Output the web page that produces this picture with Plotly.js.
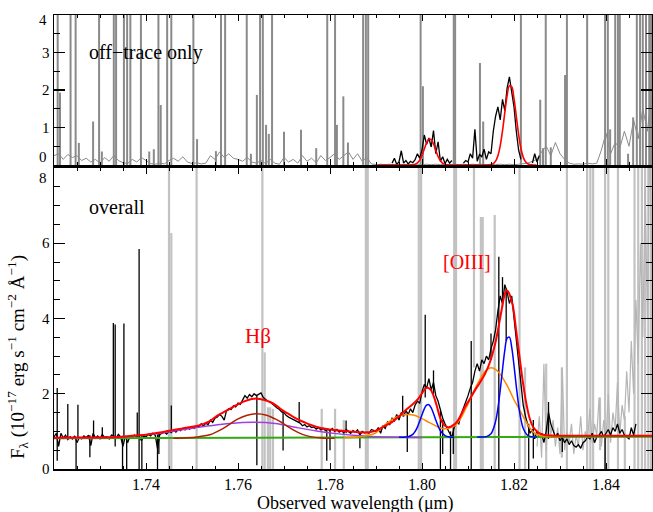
<!DOCTYPE html>
<html>
<head>
<meta charset="utf-8">
<script src="https://cdn.plot.ly/plotly-3.0.1.min.js"></script>
<style>html,body{margin:0;padding:0;background:#fff;}#chart{width:653px;height:512px;}</style>
</head>
<body>
<div id="chart"></div>
<script>
// ---------------- DATA ----------------
const STEP = 0.0005;
// bottom panel: observed spectrum (black), grid segments
const blackA_start = 1.7200;
const blackA = [0.85,0.95,0.60,0.95,0.82,0.90,0.78,0.86,0.80,0.88,0.70,0.84,0.80,0.88,0.83,0.90,0.62,0.95,0.82,0.88,
0.80,0.92,0.84,0.86,0.80,0.90,0.88,0.82,0.92,0.85,0.60,0.88,0.70,0.86,0.84,0.90,0.86,0.90,0.75,0.88,
0.85,0.92,0.88,0.95,0.90,0.55,0.92,0.95,0.98,0.93,1.00,0.97,1.03,0.98,1.05,1.02,1.08,1.04,1.10,1.06];
const blackB_start = 1.7500;
const blackB = [1.12,1.08,1.15,1.12,1.20,1.14,1.22,1.18,1.30,1.24,1.35,1.38,1.45,1.40,1.30,1.55,1.60,1.58,1.68,1.65,
1.75,1.72,1.82,1.95,1.88,1.98,1.92,2.00,1.95,1.98,2.02,1.90,1.85,1.80,1.78,1.72,1.68,1.62,1.58,1.52,
1.50,1.42,1.38,1.35,1.30,1.28,1.25,1.22,1.15,1.18,1.12,1.15,1.10,1.12,1.06,1.10,1.04,1.08,1.02,1.06];
const blackC_start = 1.7800;
const blackC = [1.02,1.08,1.00,1.05,0.98,1.02,0.96,1.05,1.00,0.95,1.02,0.98,1.04,0.90,1.00,0.96,0.98,0.95,1.05,1.02];
const blackD_start = 1.7900;
const blackD = [1.00,1.10,0.95,1.15,1.08,1.25,1.18,1.35,1.28,1.45,1.30,1.50,1.40,1.55,1.45,1.60,1.50,1.70,1.80,1.75,
2.05,2.25,2.15,2.40,2.10,2.30,1.95,1.80,1.55,1.35,1.20,1.05,0.95,0.85,1.10,1.25,1.20,1.45,1.60,1.80,
1.95,2.15,2.30,2.60,2.80,2.60,2.90,2.80,3.00,2.90,3.20,3.40,3.70,4.20,4.60,4.40,4.90,4.70,4.40,4.60,
4.00,3.40,2.80,2.20,1.70,1.40,1.20,0.95,1.05,0.80,1.00,0.85,0.95,0.70];
const blackE_start = 1.8270;
const blackE = [1.00,1.50,1.20,1.00,0.85,0.95,0.75,0.85,0.70,0.80,0.65,0.75,0.62,0.58,0.65,0.55,0.70,0.75,0.85,0.80,
0.95,0.70,0.85,0.90,1.00,0.85,0.95,1.05,0.90,1.10,1.00,1.20,0.95,1.05,0.90,0.85,0.80,1.10,0.90,1.20];
// narrow spikes / dips of the black spectrum: wavelength, low, high
const bSpikeWl = [1.7207,1.7230,1.7248,1.7252,1.7278,1.7286,1.7305,1.7329,1.7333,1.7349,1.7352,1.7358,1.7381,1.7385,1.7391,1.7425,1.7428,1.7455,
1.7641,1.7698,1.7733,1.7793,1.7800,1.7835,1.7865,1.7958,1.7968,1.8007,1.8025,1.8040,1.8045,1.8062,1.8068,1.8107,1.8150,1.8167,1.8175,1.8183,
1.8232,1.8242,1.8275,1.8305,1.8398];
const bSpikeLo = [0.22,0.80,-0.2,0.80,0.31,0.85,0.85,0.85,0.60,0.00,0.85,-0.2,0.85,-0.2,-0.2,-0.2,0.40,0.95,
0.10,0.49,1.25,0.22,0.50,0.95,0.55,1.40,0.45,1.90,2.00,0.00,0.40,-0.2,0.40,-0.2,2.90,-0.2,4.30,3.40,
-0.2,0.28,0.80,0.45,-0.2];
const bSpikeHi = [2.15,1.73,0.85,1.71,0.90,1.29,1.11,3.88,3.84,0.88,3.87,0.88,1.50,5.85,0.90,0.92,0.95,1.69,
1.95,1.55,1.78,1.05,1.05,1.29,0.97,1.95,1.50,4.10,2.62,1.55,1.30,1.00,1.10,3.40,3.60,5.64,5.10,4.80,
1.20,1.30,1.78,0.85,0.90];
// bottom panel masked sky-line residuals (gray): wavelength, low, high
const skyWl = [1.7450,1.7455,1.7510,1.7653,1.7658,1.7665,1.7670,1.7676,1.7782,1.7811,1.7830,1.7878,1.7882,1.7993,1.7998,1.8070,1.8074,
1.8113,1.8128,1.8132,1.8158,1.8212,1.8224,1.8270,1.8304,1.8315,1.8359,1.8366,1.8372,1.8387,1.8398,1.8405,1.8426,1.8441,
1.8462,1.8470,1.8478,1.8485,1.8492,1.8498];
const skyLo = [-1,-1,-1,-1,-1,-1,-1,-1,-1,-1,-1,-1,-1,-1,-1,-1,-1,
2.7,-1,-1,-1,-1,-1,-1,0.3,-1,-1,-1,-1,0.5,-1,-1,-1,-1,
-1,-1,-1,-1,-1,-1];
const skyHi = [9,6.27,9,9,3.1,1.64,1.64,1.6,1.6,1.6,1.3,9,9,9,9,9,9,
9,6.7,6.7,6.75,9,2.7,2.8,2.7,9,9,9,9,1.9,9,9,9,1.4,
9,9,9,9,9,9];
// bottom panel gray (masked) spectrum at the red end
const grayR_start = 1.8250;
const grayR = [0.6,1.4,0.3,2.8,0.5,1.6,0.9,1.3,0.6,1.1,0.4,2.7,0.5,1.0,0.7,1.2,0.4,0.9,0.6,1.4,
0.5,1.0,0.8,1.6,0.7,1.2,0.9,1.9,0.6,1.3,0.8,2.0,0.7,1.5,1.1,2.3,0.9,1.7,1.3,2.6,
1.5,3.4,2.0,4.5,2.8,6.0,3.5,7.5,4.0,9.0,5.0];

// model components (bottom panel)
const contWl = [1.72, 1.85];
const contF  = [0.82, 0.86];
const totWl = [1.7200,1.7250,1.7300,1.7350,1.7374,1.7400,1.7420,1.7440,1.7460,1.7480,1.7504,1.7525,1.7539,1.7555,1.7575,1.7595,1.7612,1.7630,1.7641,1.7655,
1.7670,1.7685,1.7698,1.7713,1.7728,1.7743,1.7757,1.7780,1.7800,1.7820,1.7843,1.7860,1.7880,1.7900,1.7920,1.7934,1.7950,1.7963,1.7978,1.7992,
1.8002,1.8010,1.8018,1.8025,1.8032,1.8039,1.8047,1.8057,1.8066,1.8075,1.8084,1.8093,1.8104,1.8115,1.8126,1.8137,1.8148,1.8159,1.8166,1.8173,
1.8179,1.8184,1.8189,1.8194,1.8198,1.8205,1.8213,1.8220,1.8227,1.8234,1.8242,1.8253,1.8264,1.8280,1.8350,1.8500];
const totF = [0.83,0.835,0.84,0.86,0.89,0.91,0.95,0.99,1.04,1.08,1.13,1.20,1.27,1.42,1.55,1.69,1.79,1.86,1.87,1.84,
1.78,1.67,1.55,1.44,1.33,1.25,1.18,1.09,1.05,1.02,1.00,0.98,0.97,1.02,1.15,1.24,1.40,1.55,1.70,1.87,
2.05,2.16,2.12,1.95,1.68,1.38,1.18,1.11,1.15,1.24,1.42,1.64,1.86,2.09,2.30,2.53,2.85,3.33,3.75,4.22,
4.60,4.75,4.68,4.49,4.31,3.65,2.89,2.25,1.73,1.35,1.11,0.97,0.91,0.89,0.885,0.885];
const hbBroadWl = [1.7200,1.7300,1.7374,1.7417,1.7461,1.7504,1.7539,1.7582,1.7632,1.7681,1.7728,1.7771,1.7814,1.7858,1.7890,1.7950,1.8000];
const hbBroadF  = [0.83,0.84,0.88,0.93,1.01,1.09,1.15,1.21,1.24,1.21,1.10,1.01,0.94,0.89,0.865,0.845,0.84];
const hbNarrowWl = [1.7460,1.7490,1.7515,1.7539,1.7568,1.7597,1.7620,1.7641,1.7662,1.7684,1.7702,1.7720,1.7740,1.7757,1.7786,1.7810];
const hbNarrowF  = [0.82,0.83,0.86,0.91,1.08,1.31,1.43,1.47,1.43,1.31,1.18,1.04,0.92,0.86,0.82,0.82];
const o3BroadWl = [1.7830,1.7860,1.7876,1.7898,1.7920,1.7941,1.7955,1.7970,1.7985,1.8000,1.8015,1.8031,1.8046,1.8058,1.8072,1.8083,1.8093,1.8104,
1.8115,1.8125,1.8133,1.8142,1.8150,1.8158,1.8166,1.8175,1.8184,1.8192,1.8200,1.8213,1.8227,1.8242,1.8257,1.8275,1.8300];
const o3BroadF  = [0.83,0.85,0.88,0.95,1.18,1.36,1.43,1.45,1.42,1.34,1.24,1.14,1.07,1.08,1.16,1.32,1.55,1.83,
2.13,2.36,2.53,2.65,2.69,2.66,2.58,2.43,2.24,2.05,1.84,1.55,1.24,0.98,0.89,0.87,0.86];
const o3NarrowAWl = [1.7950,1.7960,1.7970,1.7980,1.7985,1.7990,1.7995,1.8000,1.8005,1.8010,1.8015,1.8020,1.8025,1.8030,1.8035,1.8040,1.8050,1.8060,1.8070];
const o3NarrowAF  = [0.845,0.847,0.859,0.922,0.997,1.114,1.268,1.442,1.600,1.698,1.707,1.625,1.477,1.303,1.142,1.017,0.887,0.851,0.845];
const o3NarrowBWl = [1.8120,1.8130,1.8140,1.8150,1.8160,1.8165,1.8170,1.8175,1.8180,1.8185,1.8190,1.8195,1.8200,1.8205,1.8210,1.8215,1.8220,1.8230,1.8240,1.8250];
const o3NarrowBF  = [0.850,0.851,0.861,0.937,1.266,1.612,2.091,2.643,3.152,3.474,3.505,3.235,2.752,2.198,1.698,1.323,1.085,0.890,0.854,0.850];

// top panel (off-trace only)
const topGray_start = 1.720, TOP_STEP = 0.001;
const topGray = [0.25,0.30,0.15,0.28,0.20,0.25,0.12,0.18,0.08,0.15,
0.05,0.20,0.10,0.25,0.12,0.06,0.04,0.15,0.08,0.20,
0.12,0.04,0.02,0.05,0.03,0.12,0.18,0.10,0.22,0.08,
0.04,0.06,0.03,0.05,0.25,0.15,0.35,0.20,0.30,0.18,
0.15,0.10,0.20,0.08,0.05,0.12,0.04,0.15,0.05,0.02,
0.20,0.08,0.15,0.05,0.25,0.10,0.18,0.06,0.25,0.12,
0.20,0.30,0.15,0.25,0.35,0.15,0.30,0.10,0.20,0.03,
0.01,0.02,0.01,0.02,0.01,0.02,0.01,0.02,0.01,0.02,
0.01,0.02,0.01,0.02,0.01,0.02,0.01,0.02,0.01,0.02,
0.01,0.02,0.01,0.02,0.01,0.02,0.01,0.02,0.01,0.02,
0.01,0.02,0.03,0.05,0.10,0.15,0.35,0.50,0.25,0.60,
0.30,0.15,0.05,0.02,0.03,0.02,0.05,0.03,0.05,0.40,
0.85,0.30,0.60,0.45,0.90,0.50,1.20,0.70,1.50,0.90,2.00];
const topSpikeWl = [1.7208,1.7213,1.7236,1.7247,1.7254,1.7285,1.7298,1.7304,1.7330,1.7335,1.7352,1.7359,1.7366,1.7389,1.7407,1.7417,1.7427,1.7432,
1.7446,1.7455,1.7503,1.7511,1.7552,1.7563,1.7572,1.7619,1.7628,1.7641,1.7648,1.7654,1.7661,1.7667,1.7674,1.7700,1.7737,1.7770,1.7794,1.7811,
1.7815,1.7829,1.7839,1.7872,1.7878,1.7883,1.7997,1.8002,1.8069,1.8072,1.8126,1.8133,1.8215,1.8257,1.8263,1.8269,1.8280,1.8311,1.8315,
1.8359,1.8398,1.8404,1.8409,1.8420,1.8426,1.8430,1.8448,1.8459,1.8467,1.8474,1.8480,1.8487,1.8494,1.8498];
const topSpikeHi = [5,1.93,5,5,0.59,1.16,5,0.36,5,5,5,5,5,5,0.36,0.42,5,1.60,
5,5,5,0.69,0.37,5,5,5,0.30,1.87,5,5,1.07,0.83,5,0.89,0.94,0.45,5,5,
1.07,1.83,0.60,5,5,5,5,2.10,5,5,2.72,1.16,5,1.74,0.45,5,0.47,2.40,5,
5,5,5,0.95,5,5,5,0.30,1.27,5,5,5,5,5,5];
const topBlack_start = 1.7935;
const topBlack = [0.05,0.18,0.02,0.08,0.38,0.05,0.12,0.03,0.10,0.06,0.14,0.30,0.18,0.40,0.80,0.55,0.72,0.48,0.92,0.30,
0.62,0.10,0.22,0.04,0.15,0.05,0.12,null,null,null,null,0.05,0.12,0.08,0.30,0.18,0.95,0.10,0.28,0.22,
0.42,0.15,0.35,0.30,0.90,1.30,1.55,1.20,1.75,1.45,2.05,2.35,1.95,1.55,0.90,0.40,0.15,null,null,null,
null,0.05,0.30,0.08,0.25];
const topFitWl = [1.7905,1.7970,1.7975,1.7980,1.7985,1.7990,1.7995,1.8000,1.8005,1.8010,1.8015,1.8020,1.8025,1.8030,1.8035,1.8040,1.8045,1.8050,1.8055,1.8060,
1.8140,1.8145,1.8150,1.8155,1.8160,1.8165,1.8170,1.8175,1.8180,1.8185,1.8190,1.8195,1.8200,1.8205,1.8210,1.8215,1.8220,1.8225,1.8230,1.8235,1.8240,1.8249];
const topFitF = [0,0,0.002,0.006,0.020,0.056,0.130,0.257,0.425,0.591,0.690,0.678,0.561,0.389,0.227,0.111,0.046,0.016,0.005,0.001,
0.001,0.003,0.012,0.037,0.103,0.248,0.511,0.910,1.398,1.851,2.115,2.084,1.771,1.298,0.820,0.447,0.210,0.085,0.030,0.009,0.002,0];

const xTickVals = [1.74,1.76,1.78,1.80,1.82,1.84];
const xTickText = ['1.74','1.76','1.78','1.80','1.82','1.84'];
const yTopTickVals = [0,1,2,3,4];
const yBotTickVals = [0,2,4,6,8];

// ---------------- BUILD ----------------
function grid(start, step, vals){ return vals.map((v,i)=>+(start + i*step).toFixed(5)); }
function segs(wl, lo, hi){
  const xs=[], ys=[];
  for(let i=0;i<wl.length;i++){ xs.push(wl[i],wl[i],null); ys.push(lo[i],hi[i],null); }
  return {xs, ys};
}
const bx=[], by=[];
[[blackA_start,blackA],[blackB_start,blackB],[blackC_start,blackC],[blackD_start,blackD],[blackE_start,blackE]].forEach(([s,v])=>{
  grid(s,STEP,v).forEach((x,i)=>{bx.push(x); by.push(v[i]);});
});
const bs = segs(bSpikeWl,bSpikeLo,bSpikeHi);
const sky = segs(skyWl,skyLo,skyHi);
const tzero = topSpikeWl.map(()=>0);
const ts = segs(topSpikeWl,tzero,topSpikeHi);

const traces = [
  // bottom
  {x:sky.xs,y:sky.ys,xaxis:'x',yaxis:'y',mode:'lines',line:{color:'#c2c2c2',width:2.2},hoverinfo:'skip'},
  {x:grid(grayR_start,STEP,grayR),y:grayR,xaxis:'x',yaxis:'y',mode:'lines',line:{color:'#b5b5b5',width:1.2},hoverinfo:'skip'},
  {x:bx,y:by,xaxis:'x',yaxis:'y',mode:'lines',line:{color:'#000',width:1.3},hoverinfo:'skip'},
  {x:bs.xs,y:bs.ys,xaxis:'x',yaxis:'y',mode:'lines',line:{color:'#000',width:1.3},hoverinfo:'skip'},
  {x:contWl,y:contF,xaxis:'x',yaxis:'y',mode:'lines',line:{color:'#33aa11',width:2}},
  {x:hbBroadWl,y:hbBroadF,xaxis:'x',yaxis:'y',mode:'lines',line:{color:'#a040e0',width:1.5,shape:'spline'}},
  {x:hbNarrowWl,y:hbNarrowF,xaxis:'x',yaxis:'y',mode:'lines',line:{color:'#b02000',width:1.5,shape:'spline'}},
  {x:o3BroadWl,y:o3BroadF,xaxis:'x',yaxis:'y',mode:'lines',line:{color:'#ff8800',width:1.5,shape:'spline'}},
  {x:o3NarrowAWl,y:o3NarrowAF,xaxis:'x',yaxis:'y',mode:'lines',line:{color:'#0000ff',width:1.5,shape:'spline'}},
  {x:o3NarrowBWl,y:o3NarrowBF,xaxis:'x',yaxis:'y',mode:'lines',line:{color:'#0000ff',width:1.5,shape:'spline'}},
  {x:totWl,y:totF,xaxis:'x',yaxis:'y',mode:'lines',line:{color:'#ff0000',width:2,shape:'spline'}},
  // top
  {x:grid(topGray_start,TOP_STEP,topGray),y:topGray,xaxis:'x2',yaxis:'y2',mode:'lines',line:{color:'#8a8a8a',width:1},hoverinfo:'skip'},
  {x:ts.xs,y:ts.ys,xaxis:'x2',yaxis:'y2',mode:'lines',line:{color:'#8a8a8a',width:2},hoverinfo:'skip'},
  {x:grid(topBlack_start,STEP,topBlack),y:topBlack,xaxis:'x2',yaxis:'y2',mode:'lines',connectgaps:false,line:{color:'#000',width:1.3},hoverinfo:'skip'},
  {x:topFitWl,y:topFitF,xaxis:'x2',yaxis:'y2',mode:'lines',line:{color:'#ff0000',width:1.6,shape:'spline'}}
];

const FONT = 'Liberation Serif, Times New Roman, serif';
const axCommon = {showline:true, linecolor:'#000', linewidth:1.5, mirror:'ticks', ticks:'inside', tickcolor:'#000',
  showgrid:false, zeroline:false, fixedrange:true, tickfont:{family:FONT,size:16,color:'#000'}};
// edge tick labels are nudged inside the frame (as in the original figure)
const edgeLabels = [
  {v:yTopTickVals[0], py:157}, {v:yTopTickVals[4], py:20},
  {v:yBotTickVals[4], py:178}
];
const annotations = [
  {text:'Observed wavelength (μm)', xref:'paper', yref:'paper', x:0.505, y:-0.0749, xanchor:'center', yanchor:'middle', showarrow:false, font:{family:FONT,size:18,color:'#000'}},
  {text:'F<sub>λ</sub> (10<sup>−17</sup> erg s<sup>−1</sup> cm<sup>−2</sup> Å<sup>−1</sup>)', xref:'paper', yref:'paper', x:-0.0602, y:0.2467, xanchor:'center', yanchor:'middle', textangle:-90, showarrow:false, font:{family:FONT,size:19,color:'#000'}},
  {text:'off−trace only', xref:'paper', yref:'paper', x:0.0552, y:0.9163, xanchor:'left', yanchor:'middle', showarrow:false, font:{family:FONT,size:20,color:'#000'}},
  {text:'overall', xref:'paper', yref:'paper', x:0.0552, y:0.5771, xanchor:'left', yanchor:'middle', showarrow:false, font:{family:FONT,size:20,color:'#000'}},
  {text:'Hβ', xref:'paper', yref:'paper', x:0.3411, y:0.2930, xanchor:'center', yanchor:'middle', showarrow:false, font:{family:FONT,size:21,color:'#ff0000'}},
  {text:'[OIII]', xref:'paper', yref:'paper', x:0.6906, y:0.4559, xanchor:'center', yanchor:'middle', showarrow:false, font:{family:FONT,size:20,color:'#ff0000'}}
];
edgeLabels.forEach(e=>{
  annotations.push({text:String(e.v), xref:'paper', yref:'paper', x:-0.0085, y:(469-e.py)/454, xanchor:'right', yanchor:'middle',
    showarrow:false, font:{family:FONT,size:15,color:'#000'}});
});

const layout = {
  width:653, height:512,
  margin:{l:54, r:1, t:15, b:43},
  paper_bgcolor:'#fff', plot_bgcolor:'#fff', showlegend:false,
  font:{family:FONT, color:'#000'},
  xaxis: Object.assign({}, axCommon, {domain:[0,1], anchor:'y', range:[1.72,1.85], tickmode:'array', tickvals:xTickVals, ticktext:xTickText,
    ticklen:6, tickwidth:1, minor:{tickmode:'linear', tick0:1.72, dtick:0.005, ticklen:3, tickwidth:1, ticks:'inside', tickcolor:'#000', showgrid:false}}),
  xaxis2: Object.assign({}, axCommon, {domain:[0,1], anchor:'y2', range:[1.72,1.85], matches:'x', showticklabels:false, tickmode:'array', tickvals:xTickVals,
    ticklen:6, tickwidth:1, minor:{tickmode:'linear', tick0:1.72, dtick:0.005, ticklen:3, tickwidth:1, ticks:'inside', tickcolor:'#000', showgrid:false}}),
  yaxis: Object.assign({}, axCommon, {domain:[0,0.663], anchor:'x', range:[0,8], tickmode:'array', tickvals:yBotTickVals.slice(0,4),
    ticklen:11, tickwidth:1.2, tickfont:{family:FONT,size:15,color:'#000'},
    minor:{tickmode:'linear', tick0:0, dtick:0.5, ticklen:6, tickwidth:1, ticks:'inside', tickcolor:'#000', showgrid:false}}),
  yaxis2: Object.assign({}, axCommon, {domain:[0.6696,1], anchor:'x2', range:[0,4], tickmode:'array', tickvals:yTopTickVals.slice(1,4),
    ticklen:11, tickwidth:1.2, tickfont:{family:FONT,size:15,color:'#000'},
    minor:{tickmode:'linear', tick0:0, dtick:0.5, ticklen:6, tickwidth:1, ticks:'inside', tickcolor:'#000', showgrid:false}}),
  annotations: annotations
};
Plotly.newPlot('chart', traces, layout, {displayModeBar:false, staticPlot:true});
</script>
</body>
</html>
